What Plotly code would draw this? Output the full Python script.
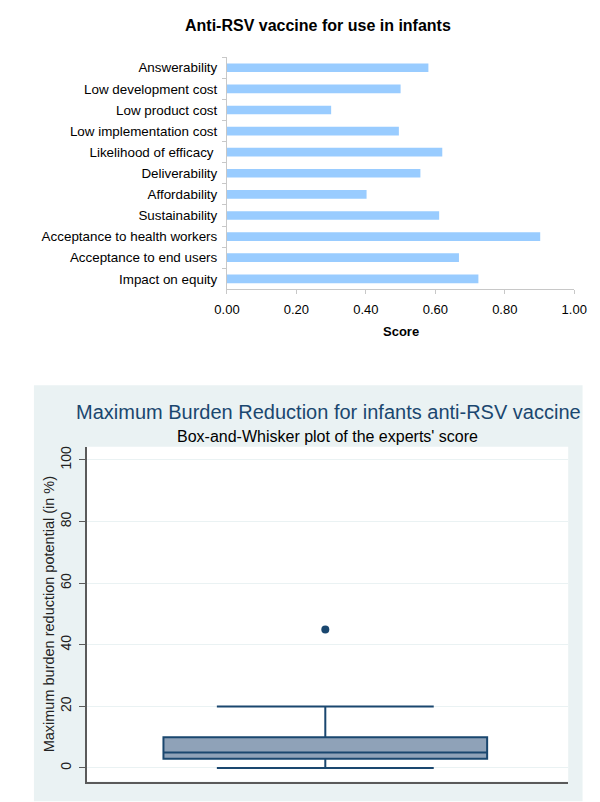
import plotly.graph_objects as go

# ---- data: top bar chart ----
categories = [
    "Answerability",
    "Low development cost",
    "Low product cost",
    "Low implementation cost",
    "Likelihood of efficacy\u00a0",
    "Deliverability",
    "Affordability",
    "Sustainability",
    "Acceptance to health workers",
    "Acceptance to end users",
    "Impact on equity",
]
scores = [0.58, 0.50, 0.30, 0.495, 0.62, 0.557, 0.402, 0.611, 0.902, 0.668, 0.724]
score_ticks = [0.0, 0.2, 0.4, 0.6, 0.8, 1.0]

# ---- data: bottom box plot (experts' score summary) ----
box_q1 = [3]
box_median = [5]
box_q3 = [10]
box_lower = [0]
box_upper = [20]
box_outliers = [45]
burden_ticks = [0, 20, 40, 60, 80, 100]

W, H = 600, 802
FONT = "Liberation Sans, Arial, sans-serif"
NAVY = "#1a476f"
PANEL = "#eaf2f3"


def px_x(p):
    return p / W


def px_y(p):
    return 1 - p / H


fig = go.Figure()

fig.add_trace(go.Bar(
    x=scores, y=categories, orientation="h",
    marker=dict(color="#99ccff", line=dict(width=0)),
    width=0.41, xaxis="x", yaxis="y", showlegend=False,
))

fig.add_trace(go.Box(
    x=[0], q1=box_q1, median=box_median, q3=box_q3,
    lowerfence=box_lower, upperfence=box_upper,
    width=0.672, whiskerwidth=0.67,
    fillcolor="#8fa2b8", line=dict(color=NAVY, width=2),
    boxpoints=False, xaxis="x2", yaxis="y2", showlegend=False,
))
fig.add_trace(go.Scatter(
    x=[0] * len(box_outliers), y=box_outliers, mode="markers",
    marker=dict(color=NAVY, size=8),
    xaxis="x2", yaxis="y2", showlegend=False,
))

fig.update_layout(
    width=W, height=H, autosize=False,
    margin=dict(l=0, r=0, t=0, b=0),
    paper_bgcolor="white", plot_bgcolor="white",
    font=dict(family=FONT, size=13, color="black"),
    xaxis=dict(
        domain=[px_x(215.3), px_x(578.3)], anchor="y",
        range=[0, 1], tickvals=score_ticks, tickformat=".2f",
        showgrid=False, zeroline=False,
        showline=True, linecolor="#c8c8c8", linewidth=1,
        ticks="outside", ticklen=4, tickcolor="#c8c8c8",
        tickfont=dict(size=13), ticklabelstandoff=4,
    ),
    yaxis=dict(
        domain=[px_y(280.7), px_y(48.3)], anchor="x",
        autorange="reversed", type="category",
        showgrid=False, zeroline=False,
        showline=True, linecolor="#c8c8c8", linewidth=1,
        ticks="outside", ticklen=4, tickcolor="#c8c8c8",
        tickson="boundaries", tickfont=dict(size=13.4),
        ticklabelstandoff=6,
    ),
    xaxis2=dict(
        domain=[px_x(68.5), px_x(572)], anchor="y2",
        range=[-0.4957, 0.5043], showticklabels=False, ticks="",
        showgrid=False, zeroline=False,
        showline=True, linecolor="#5a5a5a", linewidth=1.5,
    ),
    yaxis2=dict(
        domain=[px_y(773.5), px_y(438.3)], anchor="x2",
        range=[-4.4, 104.3], tickvals=burden_ticks, tickangle=-90,
        showgrid=True, gridcolor=PANEL, gridwidth=1.2, zeroline=False,
        showline=True, linecolor="#5a5a5a", linewidth=1.5,
        ticks="outside", ticklen=6, tickcolor="#5a5a5a",
        tickfont=dict(size=14, color="#222"), ticklabelstandoff=2,
        title=dict(text="Maximum burden reduction potential (in %)",
                   font=dict(size=14.5, color="#222"), standoff=0),
    ),
    shapes=[
        dict(type="rect", xref="paper", yref="paper", layer="below",
             x0=px_x(13.5), x1=px_x(587), y0=px_y(793.3), y1=px_y(376.7),
             fillcolor=PANEL, line=dict(width=0)),
        dict(type="rect", xref="paper", yref="paper", layer="below",
             x0=px_x(68.5), x1=px_x(572), y0=px_y(773.5), y1=px_y(438.3),
             fillcolor="white", line=dict(width=0)),
    ],
    annotations=[
        dict(text="<b>Anti-RSV vaccine for use in infants</b>", xref="paper", yref="paper",
             x=px_x(310.8), y=px_y(17), xanchor="center", yanchor="middle",
             showarrow=False, font=dict(size=16, color="black")),
        dict(text="<b>Score</b>", xref="paper", yref="paper",
             x=px_x(397), y=px_y(323), xanchor="center", yanchor="middle",
             showarrow=False, font=dict(size=13, color="black")),
        dict(text="Maximum Burden Reduction for infants anti-RSV vaccine", xref="paper", yref="paper",
             x=px_x(321.5), y=px_y(403.3), xanchor="center", yanchor="middle",
             showarrow=False, font=dict(size=20, color=NAVY)),
        dict(text="Box-and-Whisker plot of the experts' score", xref="paper", yref="paper",
             x=px_x(320), y=px_y(427.7), xanchor="center", yanchor="middle",
             showarrow=False, font=dict(size=16, color="black")),
    ],
)

fig.write_html("out.html")
